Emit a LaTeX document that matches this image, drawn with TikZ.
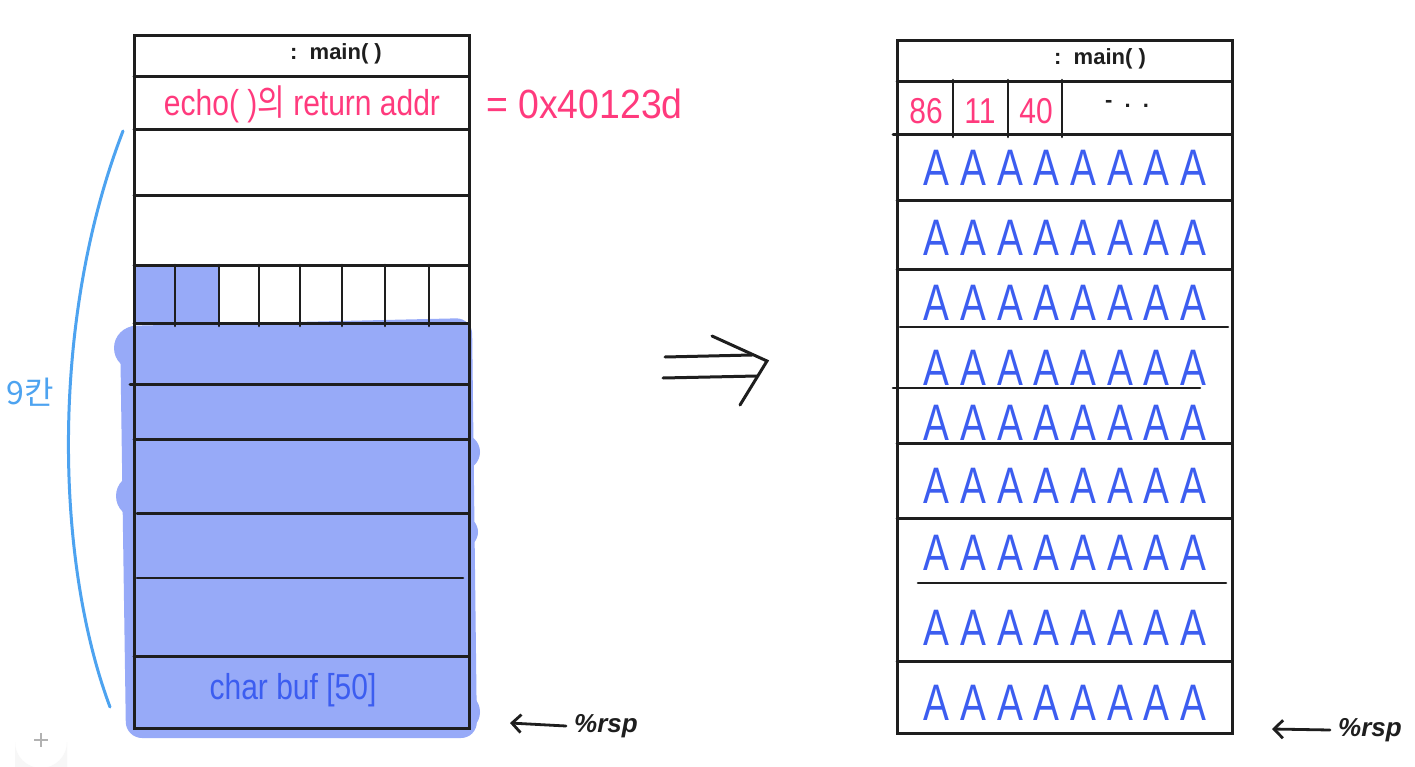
\documentclass[tikz,border=0pt]{standalone}
\usepackage{fontspec}
\usetikzlibrary{arrows.meta}
\setmainfont{Liberation Sans}
\newfontfamily\kr{Noto Sans CJK KR}
\definecolor{pinkc}{HTML}{FF3A7D}
\definecolor{bluet}{HTML}{3C5DF0}
\definecolor{bluef}{HTML}{97AAF8}
\definecolor{arcb}{HTML}{4DA3F0}
\definecolor{ink}{HTML}{1E1E1E}
\tikzset{
  grid/.style={draw=ink, line width=3pt, line cap=round},
  thin/.style={draw=ink, line width=2.6pt, line cap=round},
  lbl/.style={inner sep=0pt, font=\bfseries\fontsize{22}{24}\selectfont, text=ink},
  pinklbl/.style={inner sep=0pt, text=pinkc, font=\fontsize{30}{32}\selectfont},
  rowA/.style={inner sep=0pt, text=bluet, font=\fontsize{38}{40}\selectfont},
  rsparrow/.style={ink, line width=2.8pt, line cap=round, -{Straight Barb[length=9pt,width=18pt,line width=2.8pt]}},
}
\newcommand{\tallA}[1]{\scalebox{1.02}[1.35]{#1}}
\begin{document}
\begin{tikzpicture}[x=1pt,y=-1pt]
\useasboundingbox (0,0) rectangle (1415,767);
\fill[white] (0,0) rectangle (1415,767);
% UI button
\fill[gray!6] (15,767) -- (15,742) arc[start angle=180,end angle=0,radius=26] -- (67,767) -- cycle;
\draw[gray!60,line width=1.2pt] (34,740) -- (48,740) (41,733) -- (41,747);
% ---- left blob
\begin{scope}[fill=bluef]
\fill[rounded corners=16pt] (120,326) -- (472,318) -- (477,738) -- (126,738) -- cycle;
\fill (136,348) circle[radius=22];
\fill (138,496) circle[radius=22];
\fill (462,452) circle[radius=18];
\fill (462,532) circle[radius=16];
\fill (460,712) circle[radius=20];
\fill (134,265) rectangle (219,323);
\end{scope}
% ---- left stack
\draw[grid] (134,36) rectangle (469,728);
\foreach \y in {77,130,196,265,323,439,656} \draw[grid] (134,\y) -- (469,\y);
\draw[grid] (130,384) -- (469,384);
\draw[grid] (137,513) -- (469,513);
\draw[thin] (137,578) -- (463,578);
\foreach \x in {175,219,259,300,342,385,429} \draw[thin] (\x,265) -- (\x,326);
\node[lbl] (lmain) at (336,54) {:\ \ main( )};
\node[pinklbl] (lret) at (302,104) {\scalebox{1}[1.2]{echo( ){\kr 의} return addr}};
\node[pinklbl,font=\fontsize{34}{36}\selectfont,anchor=west] (lval) at (486,104) {\scalebox{1.1}[1.2]{= 0x40123d}};
\node[inner sep=0pt,text=bluet,font=\fontsize{30}{32}\selectfont] (lbuf) at (293,690) {\scalebox{1}[1.2]{char buf [50]}};
% arc and 9칸
\draw[arcb,line width=3pt,line cap=round] (123,131) .. controls (50,320) and (55,560) .. (110,707);
\node[inner sep=0pt,text=arcb,font=\kr\fontsize{32}{34}\selectfont] (nine) at (30,392) {9칸};
% rsp left
\node[lbl,font=\bfseries\fontsize{26}{28}\selectfont\itshape,anchor=west] (rspL) at (574,726) {\%rsp};
\draw[rsparrow] ([xshift=-8pt]rspL.west) -- (510,723);
% ---- big arrow
\draw[ink,line width=3pt,line cap=round] (665,357) -- (752,355) (663,378) -- (757,376);
\draw[ink,line width=3pt,line cap=round] (712,336) -- (767,361) -- (740,405);
% ---- right stack
\draw[grid] (897,41) rectangle (1232,733);
\foreach \y in {82,201,269,443,518,661} \draw[grid] (897,\y) -- (1232,\y);
\draw[grid] (893,135) -- (1232,135);
\draw[thin] (900,327) -- (1228,327);
\draw[thin] (893,388) -- (1200,388);
\draw[thin] (918,583) -- (1226,583);
\foreach \x in {953,1008,1062} \draw[thin] (\x,80) -- (\x,137);
\node[lbl] (rmain) at (1100,59) {:\ \ main( )};
\node[pinklbl] (b86) at (926,111) {\scalebox{1}[1.2]{86}};
\node[pinklbl] (b11) at (980,111) {\scalebox{1}[1.2]{11}};
\node[pinklbl] (b40) at (1036,111) {\scalebox{1}[1.2]{40}};
\node[lbl] (bdots) at (1127,104) {-\ \ .\ \ .};
\foreach \y/\n in {168/a1,238/a2,303/a3,368/a4,423/a5,486/a6,553/a7,628/a8,703/a9}
  \node[rowA] (\n) at (1065,\y) {\tallA{A A A A A A A A}};
% rsp right
\node[lbl,font=\bfseries\fontsize{26}{28}\selectfont\itshape,anchor=west] (rspR) at (1338,730) {\%rsp};
\draw[rsparrow] ([xshift=-8pt]rspR.west) -- (1272,729);
\end{tikzpicture}
\end{document}
